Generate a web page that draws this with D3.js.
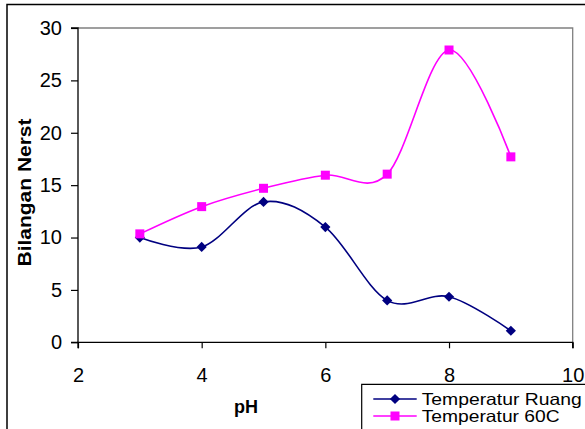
<!DOCTYPE html>
<html><head><meta charset="utf-8">
<script src="https://cdn.jsdelivr.net/npm/d3@7"></script>
<style>body{margin:0;background:#fff}svg{display:block}text{font-family:"Liberation Sans",Arial,sans-serif}</style>
</head><body>
<script>
const pH = [3,4,5,6,7,8,9];
const ruang = [10.0,9.1,13.4,11.0,4.0,4.35,1.1];
const temp60 = [10.35,12.95,14.7,15.95,16.05,27.9,17.7];
const xTicks = [2,4,6,8,10];
const yTicks = [0,5,10,15,20,25,30];
const seriesNames = ["Temperatur Ruang","Temperatur 60C"];
const colors = ["#000080","#ff00ff"];

const W=585,H=429;
const svg=d3.select("body").append("svg").attr("width",W).attr("height",H);
svg.append("rect").attr("width",W).attr("height",H).attr("fill","#fff");
svg.append("path").attr("d","M7,429V4.5H585").attr("fill","none").attr("stroke","#000").attr("stroke-width",1.5);

const L=78,R=572.7,T=28,B=342.3;
const x=d3.scaleLinear().domain([2,10]).range([L,R]);
const y=d3.scaleLinear().domain([0,30]).range([B,T]);

svg.append("path").attr("d",`M${L},${T}H${R}V${B}`).attr("fill","none").attr("stroke","#808080").attr("stroke-width",1.3);

const yAxis=svg.append("g").attr("transform",`translate(${L},0)`)
  .call(d3.axisLeft(y).tickValues(yTicks).tickSize(7).tickPadding(9).tickFormat(d3.format("d")));
const xAxis=svg.append("g").attr("transform",`translate(0,${B})`)
  .call(d3.axisBottom(x).tickValues(xTicks).tickSize(6).tickPadding(8).tickFormat(d3.format("d")));
[yAxis,xAxis].forEach(g=>{
  g.select(".domain").attr("stroke","#000").attr("stroke-width",1.3);
  g.selectAll(".tick line").attr("stroke","#000").attr("stroke-width",1.2);
  g.selectAll(".tick text").attr("font-size",20).attr("fill","#000").attr("font-family",'"Liberation Sans",Arial,sans-serif');
});
yAxis.select(".domain").attr("d",`M-7,${T}H0V${B}H-7`);
xAxis.select(".domain").attr("d",`M${L},6V0H${R}V6`);
xAxis.selectAll(".tick text").attr("dy",null).attr("y",39.5);

svg.append("text").attr("x",246).attr("y",413).attr("text-anchor","middle")
  .attr("font-weight","bold").attr("font-size",18).text("pH");
svg.append("text").attr("transform","translate(31,192.5) rotate(-90)").attr("text-anchor","middle")
  .attr("font-weight","bold").attr("font-size",18).attr("textLength",148).attr("lengthAdjust","spacingAndGlyphs").text("Bilangan Nerst");

const line=d3.line().x((d,i)=>x(pH[i])).y(d=>y(d)).curve(d3.curveCardinal.tension(0));
const data=[ruang,temp60];
data.forEach((s,k)=>{
  svg.append("path").attr("d",line(s)).attr("fill","none").attr("stroke",colors[k]).attr("stroke-width",1.6);
});
svg.append("g").selectAll("path").data(ruang).join("path")
  .attr("d",d3.symbol().type(d3.symbolSquare).size(52))
  .attr("transform",(d,i)=>`translate(${x(pH[i])},${y(d)}) rotate(45)`)
  .attr("fill",colors[0]);
svg.append("g").selectAll("rect").data(temp60).join("rect")
  .attr("x",(d,i)=>x(pH[i])-4.5).attr("y",d=>y(d)-4.5).attr("width",9).attr("height",9)
  .attr("fill",colors[1]);

const lg=svg.append("g");
lg.append("path").attr("d","M361.7,429V384.3H585").attr("fill","none").attr("stroke","#000").attr("stroke-width",1.2);
const ly=[399,416];
seriesNames.forEach((n,k)=>{
  lg.append("line").attr("x1",373.3).attr("x2",416.7).attr("y1",ly[k]).attr("y2",ly[k]).attr("stroke",colors[k]).attr("stroke-width",1.6);
  if(k===0){
    lg.append("path").attr("d",d3.symbol().type(d3.symbolSquare).size(52)).attr("transform",`translate(395,${ly[k]}) rotate(45)`).attr("fill",colors[0]);
  } else {
    lg.append("rect").attr("x",390.5).attr("y",ly[k]-4.5).attr("width",9).attr("height",9).attr("fill",colors[1]);
  }
  lg.append("text").attr("x",421.7).attr("y",ly[k]+6).attr("font-size",16.5)
    .attr("textLength",k===0?160:138).attr("lengthAdjust","spacingAndGlyphs").text(n);
});
</script>
</body></html>
